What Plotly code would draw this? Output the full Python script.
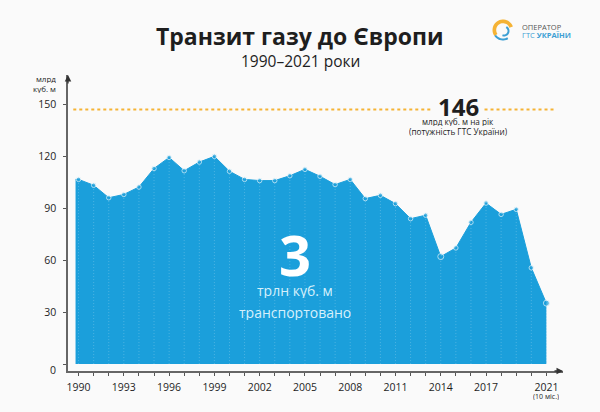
import math
import plotly.graph_objects as go

# Data
YEARS = list(range(1990, 2022))
TRANSIT = [106.7, 103.3, 96.1, 98, 102.3, 113, 119.4, 111.7, 116.7, 120,
           111.4, 106.7, 106, 106, 108.8, 112.5, 108.5, 103.7, 106.7, 95.6,
           97.5, 92.7, 84, 86, 62.1, 67.1, 81.9, 93, 86.5, 89.4,
           55.6, 35.2]
Y_TICKS = [0, 30, 60, 90, 120, 150]
X_LABELS = [1990, 1993, 1996, 1999, 2002, 2005, 2008, 2011, 2014, 2017, 2021]
BIG_MARKERS = [2014, 2021]
CAPACITY = 147
CAPACITY_LEFT = [1989.65, 2013.5]
CAPACITY_RIGHT = [2016.9, 2021.6]

BLUE = '#1B9FDB'
ORANGE = '#F5B335'
DARK = '#1E1E1E'
FONT = 'Open Sans'
W, H = 600, 412
M = dict(l=68, r=37, t=75, b=41, pad=0)


def paper(px, py):
    """Page pixels to paper fractions."""
    return (px - M['l']) / (W - M['l'] - M['r']), (H - M['b'] - py) / (H - M['t'] - M['b'])


def label(text, px, py, size, color=DARK, bold=False, xanchor='center', height=None):
    x, y = paper(px, py)
    return dict(text=f'<b>{text}</b>' if bold else text, x=x, y=y, xref='paper', yref='paper',
                showarrow=False, xanchor=xanchor, yanchor='middle', height=height,
                font=dict(family=FONT, size=size, color=color))


def arc(cx, cy, r_out, r_in, a0, a1, color):
    """Ring segment for the logo, drawn as a filled path."""
    steps = 24
    angles = [math.radians(a0 + (a1 - a0) * i / steps) for i in range(steps + 1)]
    pts = [paper(cx + r_out * math.cos(a), cy - r_out * math.sin(a)) for a in angles]
    pts += [paper(cx + r_in * math.cos(a), cy - r_in * math.sin(a)) for a in reversed(angles)]
    path = 'M' + 'L'.join(f'{x:.4f},{y:.4f}' for x, y in pts) + 'Z'
    return dict(type='path', path=path, xref='paper', yref='paper', fillcolor=color, line_width=0)


fig = go.Figure()

# filled area, with a small stub to the left of the first year
fig.add_trace(go.Scatter(x=[1989.8] + YEARS, y=TRANSIT[:1] + TRANSIT, mode='lines',
                         fill='tozeroy', fillcolor=BLUE, line=dict(color=BLUE, width=1),
                         hoverinfo='skip'))

# dotted year lines inside the area
drop_x, drop_y = [], []
for year, value in zip(YEARS, TRANSIT):
    drop_x += [year, year, None]
    drop_y += [0, value, None]
fig.add_trace(go.Scatter(x=drop_x, y=drop_y, mode='lines', hoverinfo='skip',
                         line=dict(color='rgba(255,255,255,0.32)', width=0.7, dash='1px,2px')))

# year markers
fig.add_trace(go.Scatter(x=YEARS, y=TRANSIT, mode='markers',
                         marker=dict(color=BLUE, line=dict(color='#E8F6FC', width=1),
                                     size=[6 if y in BIG_MARKERS else 4.5 for y in YEARS])))

# capacity line, broken around the label
for xs in (CAPACITY_LEFT, CAPACITY_RIGHT):
    fig.add_trace(go.Scatter(x=xs, y=[CAPACITY] * 2, mode='lines',
                             line=dict(color=ORANGE, width=2, dash='3px,3px')))

annotations = [
    label('Транзит газу до Європи', 300, 36, 23, bold=True),
    label('1990–2021 роки', 300, 61, 15.5),
    label('146', 458, 105.5, 24, bold=True, height=24),
    label('млрд куб. м на рік', 458, 121.5, 8.2, height=9),
    label('(потужність ГТС України)', 458, 131, 8.2, height=9),
    label('3', 295, 254, 56, color='white', bold=True, height=48),
    label('трлн куб. м', 295, 290, 14, color='#D6F0FB', height=16),
    label('транспортовано', 295, 312, 14, color='#D6F0FB', height=16),
    label('млрд', 58, 79, 8, xanchor='right', height=9),
    label('куб. м', 58, 89, 8, xanchor='right', height=9),
    label('0', 58, 369.5, 10.5, xanchor='right'),
    label('(10 міс.)', 546, 396, 7, height=8),
    label('ОПЕРАТОР', 519.5, 27, 7.5, color='#555555', xanchor='left', height=8),
    label('ГТС <b>УКРАЇНИ</b>', 519.5, 35, 7.5, color='#3C9FD4', xanchor='left', height=8),
]

# axis arrows
for x, y, ax, ay in ((1989.3, 167, 0, 10), (2022.1, -4, -10, 0)):
    annotations.append(dict(x=x, y=y, xref='x', yref='y', ax=ax, ay=ay, text='', showarrow=True,
                            arrowhead=2, arrowsize=1, arrowwidth=1.3, arrowcolor='#333333'))

fig.update_layout(
    width=W, height=H, margin=M, showlegend=False,
    paper_bgcolor='#FAFAFA', plot_bgcolor='#FAFAFA',
    font=dict(family=FONT, size=10.5, color=DARK),
    annotations=annotations,
    shapes=[arc(503, 30, 10.5, 6.8, 20, 215, ORANGE), arc(503, 30, 10.5, 8.5, 215, 300, '#3C9FD4'),
            arc(504, 31, 5.5, 3.5, 250, 420, '#3C9FD4')],
    xaxis=dict(range=[1989.3, 2022.1], showgrid=False, zeroline=False, showline=True,
               linecolor='#666666', linewidth=1.5, ticks='outside', ticklen=3, tickcolor='#555555',
               tickvals=YEARS, ticktext=[str(y) if y in X_LABELS else '' for y in YEARS],
               tickangle=0, ticklabelstandoff=3),
    yaxis=dict(range=[-4, 167], showgrid=False, zeroline=False, showline=True,
               linecolor='#666666', linewidth=1.5, ticks='outside', ticklen=3, tickcolor='#555555',
               tickvals=Y_TICKS, ticktext=['' if v == 0 else str(v) for v in Y_TICKS],
               ticklabelstandoff=5),
)

fig.write_html('out.html', post_script="document.body.style.margin='0'", config=dict(displayModeBar=False))
